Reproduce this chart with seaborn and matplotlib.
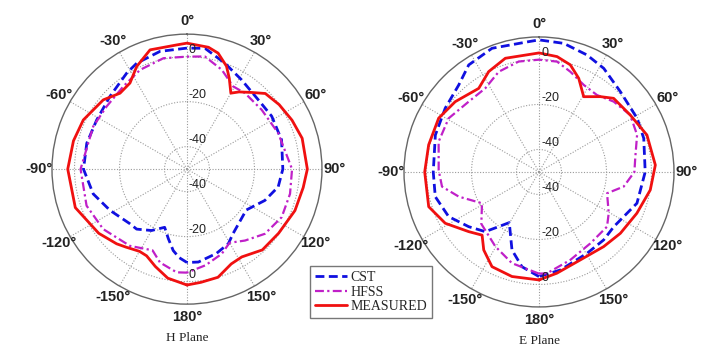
import numpy as np
import pandas as pd
import matplotlib
matplotlib.use("Agg")
import matplotlib.pyplot as plt
import seaborn as sns

# ---- data (angle in deg, gain in dB) ----
h_meas_ang = [-180, -170, -162, -155, -150, -142, -136.7, -126, -109, -90, -76, -64.6, -50.4, -41.4,
              -33.5, -26.1, -17.2, -4.7, 0, 10, 15, 21, 25, 30, 34, 40, 46, 55, 65, 75, 90, 99, 111,
              125, 137, 148, 155, 164, 173, 180]
h_meas_db = [1.5, -0.8, -4.5, -7.5, -7.8, -6.0, -4.4, -1.5, 2.5, 3.0, 2.0, 1.0, -1.7, -5.0,
             -4.1, 0.8, 5.5, 5.4, 6.0, 5.0, 3.4, -1.0, -5.5, -11.0, -8.6, -5.5, -1.6, 0.0, 1.5, 3.0,
             3.5, 2.3, 1.4, -0.3, -0.9, -4.0, -3.5, 0.0, 0.7, 1.5]

h_cst_ang = [-180, -175, -170.4, -165, -159, -150, -140, -133.8, -118.2, -104.8, -90, -75.5, -61.4,
             -46.6, -32.1, -25.4, -12.9, 0, 8.5, 19.7, 31.5, 45.8, 58, 72.8, 90, 101, 111.9, 124.6,
             144.4, 151, 160.8, 173, 180]
h_cst_db = [-8.5, -10.5, -13.3, -18.0, -22.3, -18.5, -15.2, -14.9, -11.2, -6.9, -4.0, -4.0, -4.3,
            -2.9, 0.4, 2.1, 3.7, 3.8, 4.3, 0.0, -3.5, -5.8, -5.6, -6.0, -7.4, -8.7, -12.7, -18.0,
            -14.8, -12.1, -10.3, -8.4, -8.5]

h_hfss_ang = [-180, -174.3, -163.9, -157, -143.4, -125.6, -110, -90, -65.5, -52, -37.6, -25.3, -12,
              0, 9, 19.3, 29.2, 37.3, 51.6, 68.5, 90, 103.5, 116.9, 129.7, 140.9, 150, 157.7, 169, 180]
h_hfss_db = [-4.0, -3.9, -6.8, -10.8, -7.5, -4.2, -2.5, -2.7, -4.2, -4.7, -3.6, -1.2, 0.4,
             0.0, 0.7, -3.2, -7.9, -7.5, -7.6, -6.4, -3.3, -2.9, -2.8, -5.0, -9.1, -12.2, -9.3, -6.5, -4.0]

e_meas_ang = [-180, -165.5, -153.6, -144.7, -138, -130.3, -118.7, -107.5, -90, -76.2, -61.8, -50,
              -35.8, -26.6, -16.5, 0, 8.9, 16.3, 23, 30.7, 39.2, 45.4, 58, 71.1, 86.6, 99.2, 112.9,
              127, 139.1, 154.9, 170, 180]
e_meas_db = [-2.0, -2.0, -3.0, -7.5, -12.2, -9.0, -2.5, 1.4, 0.8, 0.5, 0.6, -1.4,
             -4.2, -0.1, 2.7, 2.9, 1.9, -0.4, -4.8, -11.1, -6.8, -3.4, -2.2, 0.7, 1.8, 0.1, -2.8,
             -4.7, -6.1, -6.8, -4.3, -2.0]

e_cst_ang = [-180, -169.8, -160.9, -149.6, -143.6, -138, -127.9, -116.3, -103.4, -90, -70.4, -55.8,
             -42.7, -33.3, -20.8, -4.5, 0, 10.9, 22.3, 32, 45.4, 61.3, 72.2, 90, 107.7, 126.2, 136.4,
             149.4, 167.7, 180]
e_cst_db = [-3.5, -7.2, -13.3, -23.9, -19.8, -14.3, -10.4, -5.2, -2.6, -3.0, -1.1, 0.4,
            2.6, 6.9, 8.8, 8.1, 8.7, 8.2, 6.2, 4.3, 0.8, -0.3, -1.1, -2.8, -4.3, -8.8, -8.3,
            -8.0, -5.4, -3.5]

e_hfss_ang = [-180, -163.5, -149.7, -132, -118.8, -107.1, -98.6, -89, -73.2, -59.3, -45, -32.7,
              -21.9, -10.4, 0, 9.3, 17.3, 27.2, 37, 46.7, 58, 69.3, 81.9, 90, 99.8, 107.4, 120.6,
              128.8, 144.3, 160.4, 175.5, 180]
e_hfss_db = [-4.8, -7.7, -11.6, -15.5, -21.1, -12.7, -6.4, -5.4, -3.4, -3.3, -5.8, -5.8,
             -2.0, -0.1, -0.1, -0.3, -3.3, -6.5, -7.2, -4.4, -2.2, -3.4, -6.8, -7.6, -11.8, -18.3, -14.0,
             -11.2, -10.9, -8.5, -4.8, -4.8]

tick_angles = [0, 30, 60, 90, 120, 150, 180, -150, -120, -90, -60, -30]
ring_values = [-40, -20, 0]
r_min, r_max = -50, 10

series_names = ["CST", "HFSS", "MEASURED"]
styles = {"CST": dict(color="#1010e0", ls=(0, (3.2, 1.6)), lw=2.0),
          "HFSS": dict(color="#c020c8", ls=(0, (4, 1.5, 1, 1.5)), lw=1.6),
          "MEASURED": dict(color="#f01010", ls="-", lw=2.0)}

sns.set_style("white")
plt.rcParams["font.family"] = ["Liberation Sans", "DejaVu Sans"]

fig = plt.figure(figsize=(7.08, 3.52), dpi=100)
fig.patch.set_facecolor("white")

panels = [
    ("H Plane", [0.0734, 0.136, 0.3814, 0.767],
     {"CST": (h_cst_ang, h_cst_db), "HFSS": (h_hfss_ang, h_hfss_db), "MEASURED": (h_meas_ang, h_meas_db)}),
    ("E Plane", [0.5706, 0.128, 0.3814, 0.767],
     {"CST": (e_cst_ang, e_cst_db), "HFSS": (e_hfss_ang, e_hfss_db), "MEASURED": (e_meas_ang, e_meas_db)}),
]

handles = []
for title, rect, curves in panels:
    ax = fig.add_axes(rect, projection="polar")
    ax.set_theta_zero_location("N")
    ax.set_theta_direction(-1)
    for name in series_names:
        ang, db = curves[name]
        df = pd.DataFrame({"theta": np.deg2rad(ang), "r": db})
        st = styles[name]
        sns.lineplot(data=df, x="theta", y="r", sort=False, estimator=None, ax=ax,
                     color=st["color"], linestyle=st["ls"], linewidth=st["lw"], label=name)
    hs, _ = ax.get_legend_handles_labels()
    handles = hs
    if ax.get_legend() is not None:
        ax.get_legend().remove()
    ax.set_xlabel("")
    ax.set_ylabel("")
    ax.set_ylim(r_min, r_max)
    ax.set_rgrids(ring_values, labels=[""] * len(ring_values))
    ax.set_thetagrids(np.arange(0, 360, 30), labels=[""] * 12)
    ax.grid(True, color="#9a9a9a", linestyle=(0, (1, 1.5)), linewidth=0.8)
    ax.spines["polar"].set_color("#666666")
    ax.spines["polar"].set_linewidth(1.0)

    # radial labels, above each ring crossing on the vertical axis
    for th in (0.0, np.pi):
        for rv in ring_values:
            ax.annotate(str(rv), xy=(th, rv), xytext=(2, 6.5), textcoords="offset pixels",
                        ha="left", va="center", fontsize=9, color="#222222")
    # angle labels outside the circle
    for a in tick_angles:
        ax.text(np.deg2rad(a), r_min + 148 / 2.25, f"{a}°", ha="center", va="center",
                fontsize=10.5, fontweight="bold", color="#222222", clip_on=False)
    ax.text(0.5, -0.125, title, transform=ax.transAxes, ha="center", va="center",
            fontsize=9.5, family="Liberation Serif", color="#222222")

leg = fig.legend(handles, series_names, loc="center", bbox_to_anchor=(0.524, 0.170),
                 frameon=True, fancybox=False, handlelength=2.3, labelspacing=0.1,
                 borderpad=0.35, handletextpad=0.3, prop={"family": "Liberation Serif", "size": 10})
leg.get_frame().set_edgecolor("#555555")
leg.get_frame().set_linewidth(1.0)

fig.savefig("out.png", dpi=100, facecolor="white")
